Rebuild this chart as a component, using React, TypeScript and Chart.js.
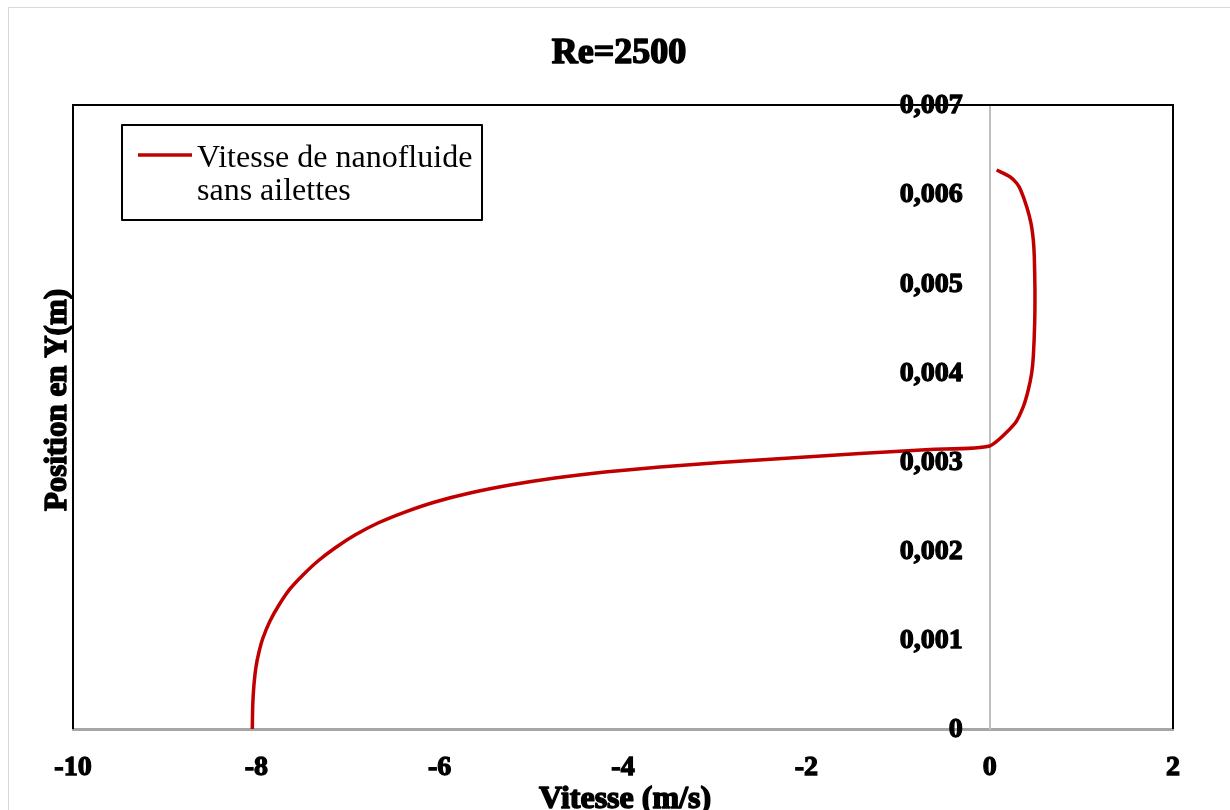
import React, { useEffect, useRef } from 'react';
import { Chart, registerables } from 'chart.js';

Chart.register(...registerables);

// ---- data ----
const velocity = [
  -8.044, -8.039, -8.026, -8.004, -7.971, -7.928, -7.851, -7.753, -7.633, -7.491, -7.328, -7.142,
  -6.924, -6.673, -6.379, -6.051, -5.67, -5.233, -4.742, -4.197, -3.597, -2.942, -2.178, -1.415,
  -0.651, 0.0, 0.276, 0.367, 0.421, 0.458, 0.476, 0.491, 0.494, 0.487, 0.476, 0.451, 0.404, 0.338,
  0.295, 0.221, 0.076,
];
const position = [
  0, 0.000269, 0.000494, 0.000696, 0.000864, 0.001021, 0.001212, 0.001391, 0.001571, 0.001728,
  0.001885, 0.002031, 0.002176, 0.002311, 0.002434, 0.002547, 0.002648, 0.002737, 0.002816,
  0.002883, 0.002939, 0.00299, 0.00304, 0.003091, 0.003136, 0.003175, 0.003429, 0.003616, 0.003803,
  0.00399, 0.004177, 0.004551, 0.004925, 0.005298, 0.005486, 0.005673, 0.005859, 0.006047, 0.006122,
  0.006196, 0.006271,
];
const xRange = [-10, 2];
const xStep = 2;
const yRange = [0, 0.007];
const yStep = 0.001;
const chartTitle = 'Re=2500';
const xTitle = 'Vitesse (m/s)';
const yTitle = 'Position en Y(m)';
const seriesLabel = ['Vitesse de nanofluide', 'sans ailettes'];

const FONT = "'Liberation Serif', 'Times New Roman', serif";
const RED = '#c00000';

const formatY = (v: number) => (v === 0 ? '0' : v.toFixed(3).replace('.', ','));

function boldText(ctx: CanvasRenderingContext2D, text: string, x: number, y: number, w = 1.3) {
  ctx.lineWidth = w;
  ctx.strokeStyle = '#000';
  ctx.lineJoin = 'round';
  ctx.strokeText(text, x, y);
  ctx.fillText(text, x, y);
}

export default function App() {
  const ref = useRef<HTMLCanvasElement>(null);

  useEffect(() => {
    if (!ref.current) return;
    const points = velocity.map((v, i) => ({ x: v, y: position[i] }));

    const decor = {
      id: 'decor',
      beforeDatasetsDraw(chart: any) {
        const { ctx, chartArea: a } = chart;
        ctx.save();
        ctx.strokeStyle = '#000';
        ctx.lineWidth = 2;
        ctx.beginPath();
        ctx.moveTo(a.left, a.bottom);
        ctx.lineTo(a.left, a.top);
        ctx.lineTo(a.right, a.top);
        ctx.lineTo(a.right, a.bottom);
        ctx.stroke();
        ctx.restore();
      },
      afterDraw(chart: any) {
        const { ctx } = chart;
        const xs = chart.scales.x;
        const ys = chart.scales.y;
        ctx.save();
        ctx.fillStyle = '#000';
        // y tick labels, placed left of the x = 0 axis
        ctx.font = `bold 28px ${FONT}`;
        ctx.textAlign = 'right';
        ctx.textBaseline = 'middle';
        const axisX = xs.getPixelForValue(0);
        ys.ticks.forEach((t: any) => {
          boldText(ctx, formatY(Number(t.value)), axisX - 27, ys.getPixelForValue(t.value) + 1, 1.3);
        });
        // main title
        ctx.font = `bold 36px ${FONT}`;
        ctx.textAlign = 'center';
        ctx.textBaseline = 'alphabetic';
        boldText(ctx, chartTitle, 610, 55, 1.6);
        // x title
        ctx.font = `bold 32px ${FONT}`;
        boldText(ctx, xTitle, 616, 800, 1.5);
        // y title
        ctx.save();
        ctx.translate(57, 392);
        ctx.rotate(-Math.PI / 2);
        ctx.font = `bold 31px ${FONT}`;
        boldText(ctx, yTitle, 0, 0, 1.5);
        ctx.restore();
        // legend
        ctx.lineWidth = 2;
        ctx.strokeStyle = '#000';
        ctx.fillStyle = '#fff';
        ctx.fillRect(113, 117, 360, 95);
        ctx.strokeRect(113, 117, 360, 95);
        ctx.strokeStyle = RED;
        ctx.lineWidth = 3.5;
        ctx.beginPath();
        ctx.moveTo(129, 147);
        ctx.lineTo(183, 147);
        ctx.stroke();
        ctx.fillStyle = '#000';
        ctx.font = `32px ${FONT}`;
        ctx.textAlign = 'left';
        ctx.fillText(seriesLabel[0], 188, 158.5);
        ctx.fillText(seriesLabel[1], 188, 192);
        ctx.restore();
      },
    };

    const tickFont = { family: FONT, size: 28, weight: 'bold' };

    const chart = new Chart(ref.current, {
      type: 'scatter',
      data: {
        datasets: [
          {
            label: seriesLabel.join(' '),
            data: points,
            showLine: true,
            borderColor: RED,
            backgroundColor: RED,
            borderWidth: 3.5,
            pointRadius: 0,
            tension: 0.2,
            fill: false,
          },
        ],
      },
      options: {
        animation: false,
        responsive: true,
        maintainAspectRatio: false,
        layout: { padding: { top: 97, left: 64, right: 76, bottom: 0 } },
        plugins: {
          legend: { display: false },
          tooltip: { enabled: false },
          title: { display: false },
        },
        scales: {
          x: {
            type: 'linear',
            position: 'bottom',
            min: xRange[0],
            max: xRange[1],
            ticks: {
              stepSize: xStep,
              padding: 22,
              color: '#000',
              textStrokeColor: '#000',
              textStrokeWidth: 1.3,
              font: tickFont,
            },
            grid: { display: false, drawTicks: false },
            border: { display: true, color: '#a6a6a6', width: 3 },
            afterFit: (s: any) => {
              s.height = 109;
            },
          },
          y: {
            type: 'linear',
            position: { x: 0 },
            min: yRange[0],
            max: yRange[1],
            ticks: {
              stepSize: yStep,
              display: false,
              font: tickFont,
            },
            grid: { display: false, drawTicks: false },
            border: { display: true, color: '#bfbfbf', width: 2 },
          },
        },
      } as any,
      plugins: [decor],
    });
    return () => chart.destroy();
  }, []);

  return (
    <div
      style={{
        position: 'fixed',
        left: 8,
        top: 7,
        width: 1240,
        height: 830,
        border: '1px solid #d9d9d9',
        background: '#fff',
      }}
    >
      <canvas ref={ref} style={{ display: 'block' }} />
    </div>
  );
}
